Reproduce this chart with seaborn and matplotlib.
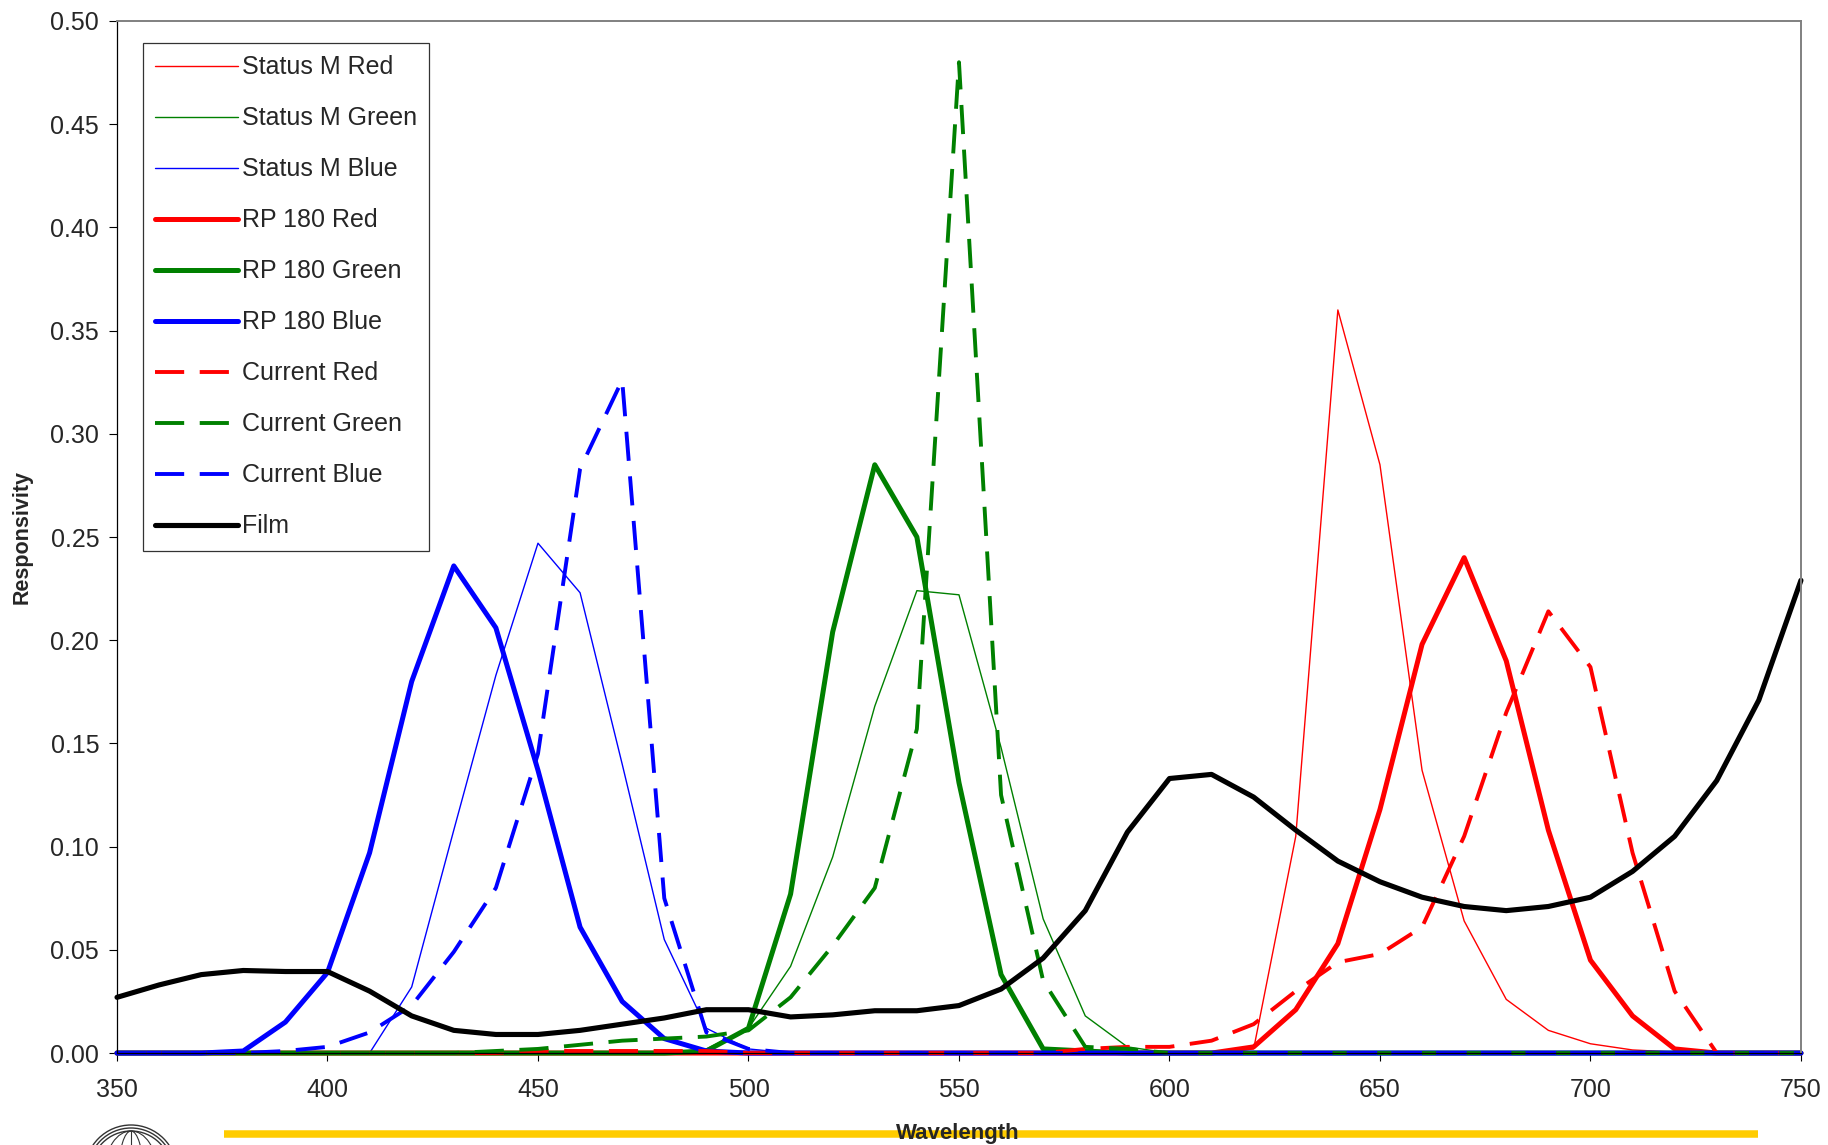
import matplotlib
matplotlib.use("Agg")
import matplotlib.pyplot as plt
import seaborn as sns
import pandas as pd
from matplotlib.lines import Line2D
from matplotlib.patches import Ellipse

# wavelength (nm)
wavelength = [350, 360, 370, 380, 390, 400, 410, 420, 430, 440,
              450, 460, 470, 480, 490, 500, 510, 520, 530, 540,
              550, 560, 570, 580, 590, 600, 610, 620, 630, 640,
              650, 660, 670, 680, 690, 700, 710, 720, 730, 740, 750]

status_m_red = [0] * 27 + [0.002, 0.105, 0.360, 0.285, 0.137, 0.064, 0.026,
                           0.011, 0.0045, 0.0015, 0.0005, 0, 0, 0]
status_m_green = [0] * 14 + [0.002, 0.012, 0.042, 0.095, 0.168, 0.224, 0.222,
                             0.148, 0.065, 0.018, 0.003] + [0] * 16
status_m_blue = [0] * 7 + [0.032, 0.108, 0.183, 0.247, 0.223, 0.140, 0.055,
                           0.012, 0.002] + [0] * 25
rp180_red = [0] * 27 + [0.003, 0.021, 0.053, 0.118, 0.198, 0.240, 0.190,
                        0.108, 0.045, 0.018, 0.002, 0, 0, 0]
rp180_green = [0] * 14 + [0.001, 0.012, 0.077, 0.204, 0.285, 0.250, 0.131,
                          0.038, 0.002, 0.001, 0] + [0] * 16
rp180_blue = [0] * 3 + [0.001, 0.015, 0.039, 0.097, 0.180, 0.236, 0.206,
                        0.137, 0.061, 0.025, 0.007, 0.001] + [0] * 26
current_red = [0] * 10 + [0.001, 0.001, 0.001, 0.001, 0.001] + [0] * 8 + \
              [0.002, 0.003, 0.003, 0.006, 0.014, 0.030, 0.044, 0.048, 0.061,
               0.105, 0.165, 0.214, 0.187, 0.097, 0.030, 0, 0, 0]
current_green = [0] * 9 + [0.001, 0.002, 0.004, 0.006, 0.007, 0.008, 0.011,
                           0.027, 0.052, 0.080, 0.157, 0.480, 0.125, 0.035,
                           0.003, 0.002] + [0] * 16
current_blue = [0] * 4 + [0.001, 0.003, 0.010, 0.023, 0.049, 0.080, 0.145,
                          0.283, 0.326, 0.075, 0.010, 0.002] + [0] * 25
film = [0.027, 0.033, 0.038, 0.040, 0.0395, 0.0395, 0.030, 0.018, 0.011, 0.009,
        0.009, 0.011, 0.014, 0.017, 0.021, 0.021, 0.0175, 0.0185, 0.0205, 0.0205,
        0.023, 0.031, 0.046, 0.069, 0.107, 0.133, 0.135, 0.124, 0.108, 0.093,
        0.083, 0.0755, 0.071, 0.069, 0.071, 0.0755, 0.088, 0.105, 0.132, 0.171,
        0.229]

series = [
    ("Status M Red", status_m_red, "#FF0000", 1.0, "-"),
    ("Status M Green", status_m_green, "#008000", 1.0, "-"),
    ("Status M Blue", status_m_blue, "#0000FF", 1.0, "-"),
    ("RP 180 Red", rp180_red, "#FF0000", 3.6, "-"),
    ("RP 180 Green", rp180_green, "#008000", 3.6, "-"),
    ("RP 180 Blue", rp180_blue, "#0000FF", 3.6, "-"),
    ("Current Red", current_red, "#FF0000", 2.8, "--"),
    ("Current Green", current_green, "#008000", 2.8, "--"),
    ("Current Blue", current_blue, "#0000FF", 2.8, "--"),
    ("Film", film, "#000000", 3.7, "-"),
]

sns.set_style("white")
plt.rcParams["font.family"] = ["Liberation Sans", "DejaVu Sans"]

fig = plt.figure(figsize=(18.28, 11.45), dpi=100)
ax = fig.add_axes([0.064, 0.0803, 0.9212, 0.9014])

handles = []
for name, vals, color, lw, ls in series:
    df = pd.DataFrame({"Wavelength": wavelength, "Responsivity": vals})
    sns.lineplot(data=df, x="Wavelength", y="Responsivity", ax=ax,
                 color=color, linewidth=lw, label=name, legend=False)
    line = ax.lines[-1]
    line.set_clip_on(False)
    if ls == "--":
        line.set_dashes([7.5, 4])
    handles.append(line)

ax.set_xlim(350, 750)
ax.set_ylim(0, 0.5)
ax.set_xticks(range(350, 751, 50))
ax.set_yticks([i * 0.05 for i in range(11)])
ax.set_yticklabels([f"{i * 0.05:.2f}" for i in range(11)])
ax.tick_params(axis="both", direction="out", length=5.8, width=0.8,
               color="black", labelsize=18, bottom=True, left=True)
ax.tick_params(axis="x", pad=12)
ax.tick_params(axis="y", pad=7)

for s in ["left", "bottom"]:
    ax.spines[s].set_color("black")
    ax.spines[s].set_linewidth(0.9)
for s in ["top", "right"]:
    ax.spines[s].set_color("#808080")
    ax.spines[s].set_linewidth(1.4)

ax.set_xlabel("")
ax.set_ylabel("Responsivity", fontsize=15.5, fontweight="bold")
ax.yaxis.set_label_coords(-0.050, 0.5)

leg = ax.legend(handles=handles, loc="upper left",
                bbox_to_anchor=(0.0154, 0.9787), borderaxespad=0,
                fontsize=18, frameon=True, fancybox=False, edgecolor="black",
                handlelength=3.3, handletextpad=0.15, labelspacing=1.08,
                borderpad=0.5)
leg.get_frame().set_linewidth(0.9)

# footer: yellow rule, axis title and logo
fig.add_artist(Line2D([224 / 1828, 1758 / 1828], [0.0096, 0.0096],
                      transform=fig.transFigure, color="#FFCC00", lw=5.4,
                      solid_capstyle="butt"))
fig.text(958 / 1828, 1 - 1134 / 1145, "Wavelength", fontsize=16,
         fontweight="bold", ha="center", va="center", zorder=5)

cx, cy = 131 / 1828, 1 - 1171 / 1145
for r in [46, 43, 40]:
    fig.add_artist(Ellipse((cx, cy), 2 * r / 1828, 2 * r / 1145,
                           transform=fig.transFigure, fill=False,
                           edgecolor="#333333", lw=1.0))
for w in [26, 12]:
    fig.add_artist(Ellipse((cx, cy), 2 * w / 1828, 80 / 1145,
                           transform=fig.transFigure, fill=False,
                           edgecolor="#333333", lw=0.8))
fig.add_artist(Line2D([cx, cx], [cy, cy + 40 / 1145],
                      transform=fig.transFigure, color="#333333", lw=0.8))

fig.savefig("out.png", dpi=100)
